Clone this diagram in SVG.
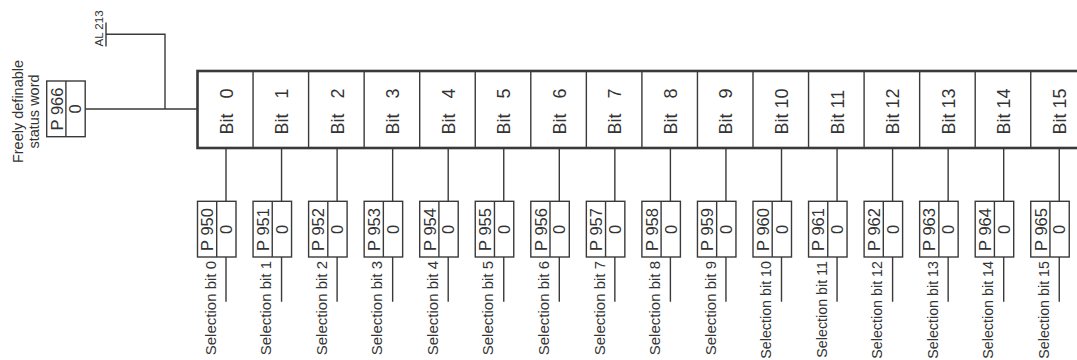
<svg xmlns="http://www.w3.org/2000/svg" width="1077" height="360" viewBox="0 0 1077 360">
<defs>
<style>
text{font-family:"Liberation Sans",Arial,sans-serif;fill:#333}
.box{fill:#fff;stroke:#3a3a3a;stroke-width:1.4}
.div{stroke:#3a3a3a;stroke-width:1.4}
.reg{fill:#fff;stroke:#3a3a3a;stroke-width:2.6}
.cdiv{stroke:#3a3a3a;stroke-width:1.4}
.con{fill:none;stroke:#3a3a3a;stroke-width:1.4}
.bit{font-size:18px}
.pn{font-size:16.5px;text-anchor:middle}
.sel{font-size:15px;text-anchor:end}
.sel2{font-size:14.3px;text-anchor:end}
.lbl{font-size:14.5px;text-anchor:middle}
.al{font-size:11.5px}
</style>
<g id="pbox">
<rect class="box" x="0" y="0" width="38.5" height="55.7"/>
<line class="div" x1="19.2" y1="0" x2="19.2" y2="55.7"/>
</g>
</defs>

<g id="connectors">
<path class="con" d="M84.3 109H197.5M165 109V34.3H106M106 22.5V46.5"/>
<path class="con" d="M226 148V201.3M226 257V301.7M281.55 148V201.3M281.55 257V301.7M337.1 148V201.3M337.1 257V301.7M392.65 148V201.3M392.65 257V301.7M448.2 148V201.3M448.2 257V301.7M503.75 148V201.3M503.75 257V301.7M559.3 148V201.3M559.3 257V301.7M614.85 148V201.3M614.85 257V301.7M670.4 148V201.3M670.4 257V301.7M725.95 148V201.3M725.95 257V301.7M781.5 148V201.3M781.5 257V301.7M837.05 148V201.3M837.05 257V301.7M892.6 148V201.3M892.6 257V301.7M948.15 148V201.3M948.15 257V301.7M1003.7 148V201.3M1003.7 257V301.7M1059.25 148V201.3M1059.25 257V301.7"/>
</g>

<g id="status-word-label">
<text class="lbl" transform="translate(22.5,111.5) rotate(-90)">Freely definable</text>
<text class="lbl" transform="translate(39,111.5) rotate(-90)">status word</text>
</g>

<g id="p966">
<use href="#pbox" x="46.7" y="81"/>
<text class="pn" transform="translate(62.5,109) rotate(-90)">P 966</text>
<text class="pn" transform="translate(81.3,109) rotate(-90)">0</text>
</g>

<g id="al213">
<text class="al" transform="translate(103.3,46.5) rotate(-90)">AL 213</text>
</g>

<g id="register">
<rect class="reg" x="197.5" y="71" width="889" height="77"/>
<path class="cdiv" d="M253.05 71V148M308.6 71V148M364.15 71V148M419.7 71V148M475.25 71V148M530.8 71V148M586.35 71V148M641.9 71V148M697.45 71V148M753 71V148M808.55 71V148M864.1 71V148M919.65 71V148M975.2 71V148M1030.75 71V148"/>
<text class="bit" transform="translate(232.5,134.5) rotate(-90)">Bit <tspan dx="10">0</tspan></text>
<text class="bit" transform="translate(288.05,134.5) rotate(-90)">Bit <tspan dx="10">1</tspan></text>
<text class="bit" transform="translate(343.6,134.5) rotate(-90)">Bit <tspan dx="10">2</tspan></text>
<text class="bit" transform="translate(399.15,134.5) rotate(-90)">Bit <tspan dx="10">3</tspan></text>
<text class="bit" transform="translate(454.7,134.5) rotate(-90)">Bit <tspan dx="10">4</tspan></text>
<text class="bit" transform="translate(510.25,134.5) rotate(-90)">Bit <tspan dx="10">5</tspan></text>
<text class="bit" transform="translate(565.8,134.5) rotate(-90)">Bit <tspan dx="10">6</tspan></text>
<text class="bit" transform="translate(621.35,134.5) rotate(-90)">Bit <tspan dx="10">7</tspan></text>
<text class="bit" transform="translate(676.9,134.5) rotate(-90)">Bit <tspan dx="10">8</tspan></text>
<text class="bit" transform="translate(732.45,134.5) rotate(-90)">Bit <tspan dx="10">9</tspan></text>
<text class="bit" transform="translate(788,134.5) rotate(-90)">Bit 10</text>
<text class="bit" transform="translate(843.55,134.5) rotate(-90)">Bit 11</text>
<text class="bit" transform="translate(899.1,134.5) rotate(-90)">Bit 12</text>
<text class="bit" transform="translate(954.65,134.5) rotate(-90)">Bit 13</text>
<text class="bit" transform="translate(1010.2,134.5) rotate(-90)">Bit 14</text>
<text class="bit" transform="translate(1065.75,134.5) rotate(-90)">Bit 15</text>
</g>

<g id="p950" transform="translate(197.5,0)"><use href="#pbox" y="201.3"/><text class="pn" transform="translate(15.8,229.5) rotate(-90)">P 950</text><text class="pn" transform="translate(34.6,229.5) rotate(-90)">0</text><text class="sel" transform="translate(18.2,261) rotate(-90)">Selection bit 0</text></g>
<g id="p951" transform="translate(253.05,0)"><use href="#pbox" y="201.3"/><text class="pn" transform="translate(15.8,229.5) rotate(-90)">P 951</text><text class="pn" transform="translate(34.6,229.5) rotate(-90)">0</text><text class="sel" transform="translate(18.2,261) rotate(-90)">Selection bit 1</text></g>
<g id="p952" transform="translate(308.6,0)"><use href="#pbox" y="201.3"/><text class="pn" transform="translate(15.8,229.5) rotate(-90)">P 952</text><text class="pn" transform="translate(34.6,229.5) rotate(-90)">0</text><text class="sel" transform="translate(18.2,261) rotate(-90)">Selection bit 2</text></g>
<g id="p953" transform="translate(364.15,0)"><use href="#pbox" y="201.3"/><text class="pn" transform="translate(15.8,229.5) rotate(-90)">P 953</text><text class="pn" transform="translate(34.6,229.5) rotate(-90)">0</text><text class="sel" transform="translate(18.2,261) rotate(-90)">Selection bit 3</text></g>
<g id="p954" transform="translate(419.7,0)"><use href="#pbox" y="201.3"/><text class="pn" transform="translate(15.8,229.5) rotate(-90)">P 954</text><text class="pn" transform="translate(34.6,229.5) rotate(-90)">0</text><text class="sel" transform="translate(18.2,261) rotate(-90)">Selection bit 4</text></g>
<g id="p955" transform="translate(475.25,0)"><use href="#pbox" y="201.3"/><text class="pn" transform="translate(15.8,229.5) rotate(-90)">P 955</text><text class="pn" transform="translate(34.6,229.5) rotate(-90)">0</text><text class="sel" transform="translate(18.2,261) rotate(-90)">Selection bit 5</text></g>
<g id="p956" transform="translate(530.8,0)"><use href="#pbox" y="201.3"/><text class="pn" transform="translate(15.8,229.5) rotate(-90)">P 956</text><text class="pn" transform="translate(34.6,229.5) rotate(-90)">0</text><text class="sel" transform="translate(18.2,261) rotate(-90)">Selection bit 6</text></g>
<g id="p957" transform="translate(586.35,0)"><use href="#pbox" y="201.3"/><text class="pn" transform="translate(15.8,229.5) rotate(-90)">P 957</text><text class="pn" transform="translate(34.6,229.5) rotate(-90)">0</text><text class="sel" transform="translate(18.2,261) rotate(-90)">Selection bit 7</text></g>
<g id="p958" transform="translate(641.9,0)"><use href="#pbox" y="201.3"/><text class="pn" transform="translate(15.8,229.5) rotate(-90)">P 958</text><text class="pn" transform="translate(34.6,229.5) rotate(-90)">0</text><text class="sel" transform="translate(18.2,261) rotate(-90)">Selection bit 8</text></g>
<g id="p959" transform="translate(697.45,0)"><use href="#pbox" y="201.3"/><text class="pn" transform="translate(15.8,229.5) rotate(-90)">P 959</text><text class="pn" transform="translate(34.6,229.5) rotate(-90)">0</text><text class="sel" transform="translate(18.2,261) rotate(-90)">Selection bit 9</text></g>
<g id="p960" transform="translate(753,0)"><use href="#pbox" y="201.3"/><text class="pn" transform="translate(15.8,229.5) rotate(-90)">P 960</text><text class="pn" transform="translate(34.6,229.5) rotate(-90)">0</text><text class="sel2" transform="translate(18.2,261) rotate(-90)">Selection bit 10</text></g>
<g id="p961" transform="translate(808.55,0)"><use href="#pbox" y="201.3"/><text class="pn" transform="translate(15.8,229.5) rotate(-90)">P 961</text><text class="pn" transform="translate(34.6,229.5) rotate(-90)">0</text><text class="sel2" transform="translate(18.2,261) rotate(-90)">Selection bit 11</text></g>
<g id="p962" transform="translate(864.1,0)"><use href="#pbox" y="201.3"/><text class="pn" transform="translate(15.8,229.5) rotate(-90)">P 962</text><text class="pn" transform="translate(34.6,229.5) rotate(-90)">0</text><text class="sel2" transform="translate(18.2,261) rotate(-90)">Selection bit 12</text></g>
<g id="p963" transform="translate(919.65,0)"><use href="#pbox" y="201.3"/><text class="pn" transform="translate(15.8,229.5) rotate(-90)">P 963</text><text class="pn" transform="translate(34.6,229.5) rotate(-90)">0</text><text class="sel2" transform="translate(18.2,261) rotate(-90)">Selection bit 13</text></g>
<g id="p964" transform="translate(975.2,0)"><use href="#pbox" y="201.3"/><text class="pn" transform="translate(15.8,229.5) rotate(-90)">P 964</text><text class="pn" transform="translate(34.6,229.5) rotate(-90)">0</text><text class="sel2" transform="translate(18.2,261) rotate(-90)">Selection bit 14</text></g>
<g id="p965" transform="translate(1030.75,0)"><use href="#pbox" y="201.3"/><text class="pn" transform="translate(15.8,229.5) rotate(-90)">P 965</text><text class="pn" transform="translate(34.6,229.5) rotate(-90)">0</text><text class="sel2" transform="translate(18.2,261) rotate(-90)">Selection bit 15</text></g>
</svg>
